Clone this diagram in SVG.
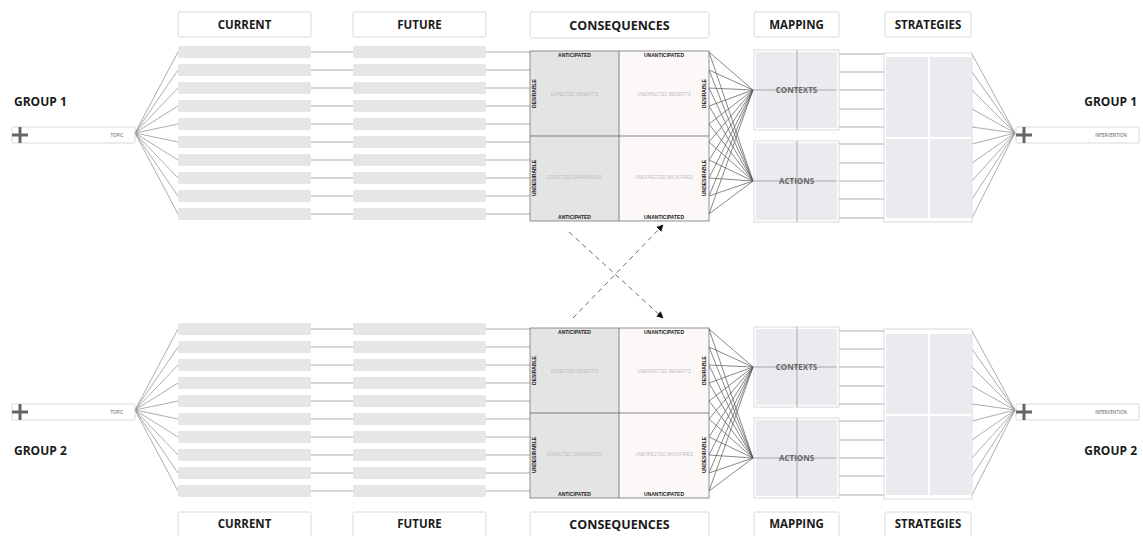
<svg xmlns="http://www.w3.org/2000/svg" width="1143" height="536" viewBox="0 0 1143 536">
<style>
.hdr{fill:#fff;stroke:#cfcfcf;stroke-width:0.8}
.ht{font-family:"Open Sans","Liberation Sans",sans-serif;font-weight:bold;font-size:11.5px;fill:#1a1a1a;text-anchor:middle}
.grp{font-family:"Open Sans","Liberation Sans",sans-serif;font-weight:bold;font-size:12px;fill:#1a1a1a}
.bar{fill:#e6e6e6}
.con{fill:none;stroke:#8a8a8a;stroke-width:0.7}
.dk{fill:none;stroke:#555;stroke-width:0.7}
.tbox{fill:#fff;stroke:#cfcfcf;stroke-width:0.8}
.plus{stroke:#666;stroke-width:3;fill:none}
.tiny{font-family:"Open Sans","Liberation Sans",sans-serif;font-size:4.5px;fill:#555;text-anchor:middle}
.ax{font-family:"Liberation Sans Narrow","Liberation Sans",sans-serif;font-weight:bold;font-size:5px;fill:#222;text-anchor:middle}
.q{font-family:"Liberation Sans",sans-serif;font-size:4.5px;fill:#bdbdbd;text-anchor:middle}
.qa{fill:#e4e4e4}
.qb{fill:#fbf8f7}
.grid{fill:none;stroke:#777;stroke-width:0.8}
.mo{fill:#fff;stroke:#cfcfcf;stroke-width:0.8}
.mi{fill:#ebebef}
.mt{font-family:"Open Sans","Liberation Sans",sans-serif;font-weight:bold;font-size:8px;fill:#666;text-anchor:middle}
.dash{fill:none;stroke:#444;stroke-width:0.8;stroke-dasharray:5 4}
</style>
<defs>
<marker id="ah" viewBox="0 0 10 10" refX="9" refY="5" markerWidth="7" markerHeight="7" orient="auto" markerUnits="userSpaceOnUse"><path d="M0 0L10 5L0 10z" fill="#111"/></marker>
<g id="barsCol"><rect class="bar" x="0" y="0" width="133" height="12" rx="1"/><rect class="bar" x="0" y="18" width="133" height="12" rx="1"/><rect class="bar" x="0" y="36" width="133" height="12" rx="1"/><rect class="bar" x="0" y="54" width="133" height="12" rx="1"/><rect class="bar" x="0" y="72" width="133" height="12" rx="1"/><rect class="bar" x="0" y="90" width="133" height="12" rx="1"/><rect class="bar" x="0" y="108" width="133" height="12" rx="1"/><rect class="bar" x="0" y="126" width="133" height="12" rx="1"/><rect class="bar" x="0" y="144" width="133" height="12" rx="1"/><rect class="bar" x="0" y="162" width="133" height="12" rx="1"/></g>
</defs>
<rect width="1143" height="536" fill="#fff"/>

<!-- ===== connectors ===== -->
<g id="connectors">
<!-- top -->
<path class="con" d="M135 133L178 52M135 133L178 70M135 133L178 88M135 133L178 106M135 133L178 124M135 133L178 142M135 133L178 160M135 133L178 178M135 133L178 196M135 133L178 214"/>
<path class="con" d="M311 52H353M311 70H353M311 88H353M311 106H353M311 124H353M311 142H353M311 160H353M311 178H353M311 196H353M311 214H353"/>
<path class="con" d="M486 52H530M486 70H530M486 88H530M486 106H530M486 124H530M486 142H530M486 160H530M486 178H530M486 196H530M486 214H530"/>
<path class="dk" d="M709 52L753 90M709 70L753 90M709 88L753 90M709 106L753 90M709 124L753 90M709 142L753 90M709 160L753 90M709 178L753 90M709 196L753 90M709 214L753 90M709 52L753 181M709 70L753 181M709 88L753 181M709 106L753 181M709 124L753 181M709 142L753 181M709 160L753 181M709 178L753 181M709 196L753 181M709 214L753 181"/>
<path class="con" d="M839 54H884M839 72H884M839 90H884M839 109H884M839 127H884M839 144H884M839 163H884M839 181H884M839 199H884M839 218H884"/>
<path class="con" d="M972 54L1015 133M972 72L1015 133M972 90L1015 133M972 109L1015 133M972 127L1015 133M972 144L1015 133M972 163L1015 133M972 181L1015 133M972 199L1015 133M972 218L1015 133"/>
<!-- bottom -->
<path class="con" d="M135 410L178 329M135 410L178 347M135 410L178 365M135 410L178 383M135 410L178 401M135 410L178 419M135 410L178 437M135 410L178 455M135 410L178 473M135 410L178 491"/>
<path class="con" d="M311 329H353M311 347H353M311 365H353M311 383H353M311 401H353M311 419H353M311 437H353M311 455H353M311 473H353M311 491H353"/>
<path class="con" d="M486 329H530M486 347H530M486 365H530M486 383H530M486 401H530M486 419H530M486 437H530M486 455H530M486 473H530M486 491H530"/>
<path class="dk" d="M709 329L753 367M709 347L753 367M709 365L753 367M709 383L753 367M709 401L753 367M709 419L753 367M709 437L753 367M709 455L753 367M709 473L753 367M709 491L753 367M709 329L753 458M709 347L753 458M709 365L753 458M709 383L753 458M709 401L753 458M709 419L753 458M709 437L753 458M709 455L753 458M709 473L753 458M709 491L753 458"/>
<path class="con" d="M839 331H884M839 349H884M839 367H884M839 386H884M839 404H884M839 421H884M839 440H884M839 458H884M839 476H884M839 495H884"/>
<path class="con" d="M972 331L1015 410M972 349L1015 410M972 367L1015 410M972 386L1015 410M972 404L1015 410M972 421L1015 410M972 440L1015 410M972 458L1015 410M972 476L1015 410M972 495L1015 410"/>
<!-- dashed cross arrows -->
<path class="dash" d="M569 232L663 318" marker-end="url(#ah)"/>
<path class="dash" d="M573 318L663 225" marker-end="url(#ah)"/>
</g>

<!-- ===== TOP ===== -->
<g id="hdr-current-top"><rect class="hdr" x="178" y="12" width="133" height="25" rx="1.5"/><text class="ht" x="244.5" y="29">CURRENT</text></g>
<g id="hdr-future-top"><rect class="hdr" x="353" y="12" width="133" height="25" rx="1.5"/><text class="ht" x="419.5" y="29">FUTURE</text></g>
<g id="hdr-consequences-top"><rect class="hdr" x="530" y="12" width="179" height="26" rx="1.5"/><text class="ht" x="619.5" y="30" style="font-size:12.5px">CONSEQUENCES</text></g>
<g id="hdr-mapping-top"><rect class="hdr" x="754" y="12" width="85" height="25" rx="1.5"/><text class="ht" x="796.5" y="29">MAPPING</text></g>
<g id="hdr-strategies-top"><rect class="hdr" x="885" y="12" width="86" height="25" rx="1.5"/><text class="ht" x="928" y="29">STRATEGIES</text></g>

<g id="group1-left"><text class="grp" x="14" y="106">GROUP 1</text></g>
<g id="topic-1"><rect class="tbox" x="12" y="127" width="123" height="16" rx="1"/><path class="plus" d="M12 135H28M20 127V143"/><text class="tiny" x="117" y="137">TOPIC</text></g>
<g id="current-1"><use href="#barsCol" x="178" y="46"/></g>
<g id="future-1"><use href="#barsCol" x="353" y="46"/></g>

<g id="consequences-1">
<rect class="qa" x="530" y="51" width="89" height="170"/>
<rect class="qb" x="619" y="51" width="90" height="170"/>
<rect class="grid" x="530" y="51" width="179" height="170"/>
<path class="dk" d="M619 51V221M530 136H709"/>
<text class="ax" x="574.5" y="57">ANTICIPATED</text>
<text class="ax" x="664" y="57">UNANTICIPATED</text>
<text class="ax" x="574.5" y="219">ANTICIPATED</text>
<text class="ax" x="664" y="219">UNANTICIPATED</text>
<text class="ax" transform="translate(536 93.5) rotate(-90)">DESIRABLE</text>
<text class="ax" transform="translate(706 93.5) rotate(-90)">DESIRABLE</text>
<text class="ax" transform="translate(536 178) rotate(-90)">UNDESIRABLE</text>
<text class="ax" transform="translate(706 178) rotate(-90)">UNDESIRABLE</text>
<text class="q" x="574.5" y="95.5">EXPECTED BENEFITS</text>
<text class="q" x="664" y="95.5">UNEXPECTED BENEFITS</text>
<text class="q" x="574.5" y="178.5">EXPECTED DRAWBACKS</text>
<text class="q" x="664" y="178.5">UNEXPECTED BACKFIRES</text>
</g>

<g id="contexts-1"><rect class="mo" x="754" y="50" width="85" height="80"/><rect class="mi" x="756" y="52" width="81" height="76"/><path class="con" d="M797 50V130M753 90H837"/><text class="mt" x="796.5" y="93">CONTEXTS</text></g>
<g id="actions-1"><rect class="mo" x="754" y="141" width="85" height="81"/><rect class="mi" x="756" y="143" width="81" height="77"/><path class="con" d="M797 141V222M753 181H837"/><text class="mt" x="796.5" y="184">ACTIONS</text></g>

<g id="strategies-1"><rect class="mo" x="884" y="53" width="88" height="169"/><rect class="mi" x="886" y="57" width="42" height="80"/><rect class="mi" x="930" y="57" width="41" height="80"/><rect class="mi" x="886" y="139" width="42" height="79"/><rect class="mi" x="930" y="139" width="41" height="79"/></g>

<g id="intervention-1"><rect class="tbox" x="1016" y="127" width="123" height="16" rx="1"/><path class="plus" d="M1016 135H1032M1024 127V143"/><text class="tiny" x="1111" y="137">INTERVENTION</text></g>
<g id="group1-right"><text class="grp" x="1137" y="106" text-anchor="end">GROUP 1</text></g>

<!-- ===== BOTTOM ===== -->
<g id="group2-left"><text class="grp" x="14" y="455">GROUP 2</text></g>
<g id="topic-2"><rect class="tbox" x="12" y="404" width="123" height="16" rx="1"/><path class="plus" d="M12 412H28M20 404V420"/><text class="tiny" x="117" y="414">TOPIC</text></g>
<g id="current-2"><use href="#barsCol" x="178" y="323"/></g>
<g id="future-2"><use href="#barsCol" x="353" y="323"/></g>

<g id="consequences-2">
<rect class="qa" x="530" y="328" width="89" height="170"/>
<rect class="qb" x="619" y="328" width="90" height="170"/>
<rect class="grid" x="530" y="328" width="179" height="170"/>
<path class="dk" d="M619 328V498M530 413H709"/>
<text class="ax" x="574.5" y="334">ANTICIPATED</text>
<text class="ax" x="664" y="334">UNANTICIPATED</text>
<text class="ax" x="574.5" y="496">ANTICIPATED</text>
<text class="ax" x="664" y="496">UNANTICIPATED</text>
<text class="ax" transform="translate(536 370.5) rotate(-90)">DESIRABLE</text>
<text class="ax" transform="translate(706 370.5) rotate(-90)">DESIRABLE</text>
<text class="ax" transform="translate(536 455) rotate(-90)">UNDESIRABLE</text>
<text class="ax" transform="translate(706 455) rotate(-90)">UNDESIRABLE</text>
<text class="q" x="574.5" y="372.5">EXPECTED BENEFITS</text>
<text class="q" x="664" y="372.5">UNEXPECTED BENEFITS</text>
<text class="q" x="574.5" y="455.5">EXPECTED DRAWBACKS</text>
<text class="q" x="664" y="455.5">UNEXPECTED BACKFIRES</text>
</g>

<g id="contexts-2"><rect class="mo" x="754" y="327" width="85" height="80"/><rect class="mi" x="756" y="329" width="81" height="76"/><path class="con" d="M797 327V407M753 367H837"/><text class="mt" x="796.5" y="370">CONTEXTS</text></g>
<g id="actions-2"><rect class="mo" x="754" y="418" width="85" height="80"/><rect class="mi" x="756" y="420" width="81" height="76"/><path class="con" d="M797 418V498M753 458H837"/><text class="mt" x="796.5" y="461">ACTIONS</text></g>

<g id="strategies-2"><rect class="mo" x="884" y="329" width="88" height="170"/><rect class="mi" x="886" y="334" width="42" height="80"/><rect class="mi" x="930" y="334" width="41" height="80"/><rect class="mi" x="886" y="416" width="42" height="79"/><rect class="mi" x="930" y="416" width="41" height="79"/></g>

<g id="intervention-2"><rect class="tbox" x="1016" y="404" width="123" height="16" rx="1"/><path class="plus" d="M1016 412H1032M1024 404V420"/><text class="tiny" x="1111" y="414">INTERVENTION</text></g>
<g id="group2-right"><text class="grp" x="1137" y="455" text-anchor="end">GROUP 2</text></g>

<g id="hdr-current-bottom"><rect class="hdr" x="178" y="512" width="133" height="26" rx="1.5"/><text class="ht" x="244.5" y="528">CURRENT</text></g>
<g id="hdr-future-bottom"><rect class="hdr" x="353" y="512" width="133" height="26" rx="1.5"/><text class="ht" x="419.5" y="528">FUTURE</text></g>
<g id="hdr-consequences-bottom"><rect class="hdr" x="530" y="512" width="179" height="26" rx="1.5"/><text class="ht" x="619.5" y="529" style="font-size:12.5px">CONSEQUENCES</text></g>
<g id="hdr-mapping-bottom"><rect class="hdr" x="754" y="512" width="85" height="26" rx="1.5"/><text class="ht" x="796.5" y="528">MAPPING</text></g>
<g id="hdr-strategies-bottom"><rect class="hdr" x="885" y="512" width="86" height="26" rx="1.5"/><text class="ht" x="928" y="528">STRATEGIES</text></g>
</svg>
